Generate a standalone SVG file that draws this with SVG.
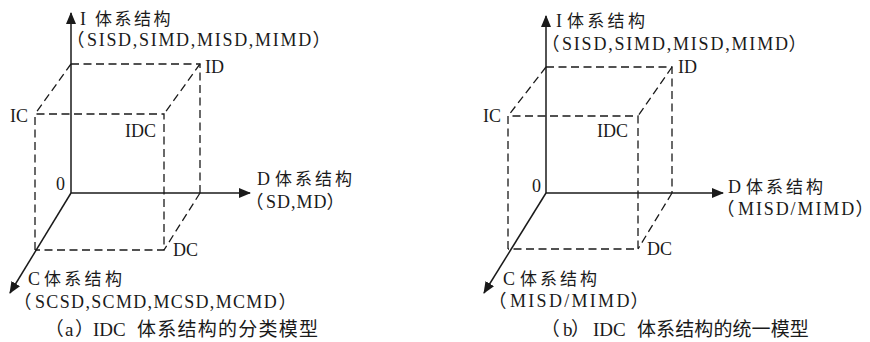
<svg xmlns="http://www.w3.org/2000/svg" width="870" height="342" viewBox="0 0 870 342">
<style>
.ax{stroke:#1a1a1a;stroke-width:1.5;fill:none}
.cube{stroke:#1a1a1a;stroke-width:1.3;fill:none;stroke-dasharray:8 4.5}
text{font-family:"Liberation Serif",serif;font-size:18px;fill:#1a1a1a}
.c{font-family:"Noto Sans CJK SC",sans-serif;font-size:17px}
.p{font-family:"Noto Sans CJK SC",sans-serif;font-size:18px}
.cap{font-size:19px}
.cap .c,.cap .p{font-size:19px}
</style>
<defs>
<marker id="arr" viewBox="0 0 12 10" refX="11" refY="5" markerWidth="12" markerHeight="10" markerUnits="userSpaceOnUse" orient="auto">
<path d="M0,0 L12,5 L0,10 Z" fill="#1a1a1a"/>
</marker>
</defs>
<rect width="870" height="342" fill="#fff"/>

<g id="panel-a">
<g id="a-connectors">
<line class="ax" x1="71" y1="193" x2="71" y2="13" marker-end="url(#arr)"/>
<line class="ax" x1="71" y1="193" x2="250" y2="193" marker-end="url(#arr)"/>
<line class="ax" x1="71" y1="193" x2="10" y2="293" marker-end="url(#arr)"/>
</g>
<g id="a-cube">
<path class="cube" d="M71,64 H200 V193"/>
<path class="cube" d="M71,64 L35,114"/>
<path class="cube" d="M200,64 L164,114"/>
<path class="cube" d="M200,193 L164,250"/>
<path class="cube" d="M35,250 V114 H164 V250 H35"/>
</g>
<g id="a-labels">
<text y="25"><tspan x="80">I</tspan><tspan class="c" x="95" letter-spacing="2.5">体系结构</tspan></text>
<text y="46"><tspan class="p" x="66.5">（</tspan><tspan x="87" letter-spacing="1.7">SISD,SIMD,MISD,MIMD</tspan><tspan class="p" x="312.5">）</tspan></text>
<text x="205" y="73">ID</text>
<text x="10" y="122">IC</text>
<text x="125" y="137">IDC</text>
<text x="56" y="190">0</text>
<text y="185"><tspan x="257">D</tspan><tspan class="c" x="275" letter-spacing="3">体系结构</tspan></text>
<text y="208"><tspan class="p" x="245.5">（</tspan><tspan x="266" letter-spacing="1">SD,MD</tspan><tspan class="p" x="326.5">）</tspan></text>
<text x="173" y="256">DC</text>
<text y="285"><tspan x="28">C</tspan><tspan class="c" x="44" letter-spacing="3.3">体系结构</tspan></text>
<text y="308"><tspan class="p" x="13.5">（</tspan><tspan x="35" letter-spacing="1.34">SCSD,SCMD,MCSD,MCMD</tspan><tspan class="p" x="278.5">）</tspan></text>
<text class="cap" y="336"><tspan class="p" x="44.8">（</tspan><tspan x="65">a</tspan><tspan class="p" x="75">）</tspan><tspan x="93">IDC</tspan><tspan class="c" x="137" letter-spacing="1.25">体系结构的分类模型</tspan></text>
</g>
</g>

<g id="panel-b">
<g id="b-connectors">
<line class="ax" x1="546" y1="193" x2="546" y2="16" marker-end="url(#arr)"/>
<line class="ax" x1="546" y1="193" x2="723" y2="193" marker-end="url(#arr)"/>
<line class="ax" x1="546" y1="193" x2="484" y2="293" marker-end="url(#arr)"/>
</g>
<g id="b-cube">
<path class="cube" d="M546,67 H672 V193"/>
<path class="cube" d="M546,67 L508,116"/>
<path class="cube" d="M672,67 L638,116"/>
<path class="cube" d="M672,193 L638,249"/>
<path class="cube" d="M508,249 V116 H638 V249 H508"/>
</g>
<g id="b-labels">
<text y="27"><tspan x="556">I</tspan><tspan class="c" x="567" letter-spacing="3.3">体系结构</tspan></text>
<text y="50"><tspan class="p" x="541.5">（</tspan><tspan x="562" letter-spacing="1.8">SISD,SIMD,MISD,MIMD</tspan><tspan class="p" x="788.5">）</tspan></text>
<text x="678" y="73">ID</text>
<text x="483" y="122">IC</text>
<text x="597" y="137">IDC</text>
<text x="532" y="192">0</text>
<text y="193"><tspan x="728">D</tspan><tspan class="c" x="746" letter-spacing="3">体系结构</tspan></text>
<text y="215"><tspan class="p" x="716.5">（</tspan><tspan x="738" letter-spacing="1.9">MISD/MIMD</tspan><tspan class="p" x="855.5">）</tspan></text>
<text x="647" y="255">DC</text>
<text y="285"><tspan x="503">C</tspan><tspan class="c" x="520" letter-spacing="3">体系结构</tspan></text>
<text y="307"><tspan class="p" x="488.5">（</tspan><tspan x="510" letter-spacing="2.3">MISD/MIMD</tspan><tspan class="p" x="630.5">）</tspan></text>
<text class="cap" y="336"><tspan class="p" x="540.8">（</tspan><tspan x="563">b</tspan><tspan class="p" x="571">）</tspan><tspan x="593">IDC</tspan><tspan class="c" x="637" letter-spacing="0.1">体系结构的统一模型</tspan></text>
</g>
</g>
</svg>
